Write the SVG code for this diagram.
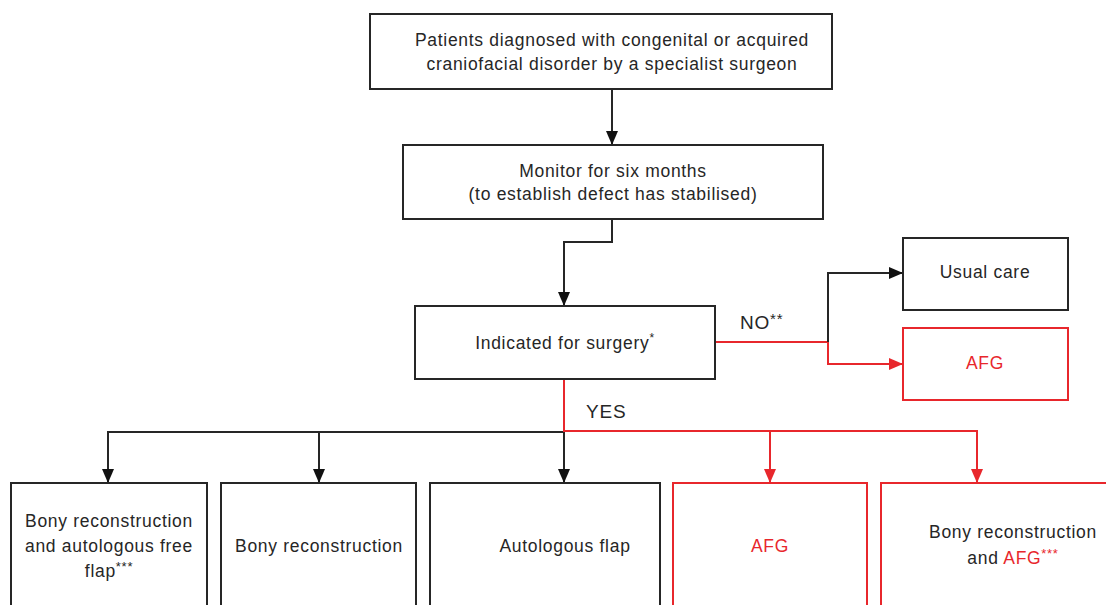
<svg xmlns="http://www.w3.org/2000/svg" width="1106" height="605" viewBox="0 0 1106 605">
<defs>
<style>
.box{fill:#fff;stroke:#262626;stroke-width:2}
.rbox{fill:#fff;stroke:#e8272c;stroke-width:2}
.t{font-family:"Liberation Sans",Arial,sans-serif;font-size:17.5px;letter-spacing:0.7px;fill:#262626;text-anchor:middle}
.r{fill:#e8272c}
.lab{font-family:"Liberation Sans",Arial,sans-serif;font-size:19px;letter-spacing:0.8px;fill:#262626}
.ln{fill:none;stroke:#262626;stroke-width:2}
.rln{fill:none;stroke:#e8272c;stroke-width:2}
</style>
<marker id="ab" viewBox="0 0 14 14" refX="13" refY="7" markerWidth="14" markerHeight="14" markerUnits="userSpaceOnUse" orient="auto"><path d="M0,1 L14,7 L0,13 Z" fill="#111"/></marker>
<marker id="ar" viewBox="0 0 14 14" refX="13" refY="7" markerWidth="14" markerHeight="14" markerUnits="userSpaceOnUse" orient="auto"><path d="M0,1 L14,7 L0,13 Z" fill="#e8272c"/></marker>
</defs>
<rect width="1106" height="605" fill="#fff"/>
<g id="connectors">
<path class="ln" d="M612,89 V144" marker-end="url(#ab)"/>
<path class="ln" d="M612,219 V242 H564 V305" marker-end="url(#ab)"/>
<path class="rln" d="M715,342 H828"/>
<path class="ln" d="M828,342 V273 H902" marker-end="url(#ab)"/>
<path class="rln" d="M828,342 V364 H902" marker-end="url(#ar)"/>
<path class="ln" d="M564,432 H108 V482" marker-end="url(#ab)"/>
<path class="ln" d="M319,432 V482" marker-end="url(#ab)"/>
<path class="ln" d="M564,432 V482" marker-end="url(#ab)"/>
<path class="rln" d="M564,379 V431 H977 V482" marker-end="url(#ar)"/>
<path class="rln" d="M770,431 V482" marker-end="url(#ar)"/>
<text class="lab" x="740" y="329">NO<tspan font-size="15" dy="-5">**</tspan></text>
<text class="lab" x="586" y="418">YES</text>
</g>
<g id="n1">
<rect class="box" x="370" y="14" width="462" height="75"/>
<text class="t" x="612" y="46">Patients diagnosed with congenital or acquired</text>
<text class="t" x="612" y="70">craniofacial disorder by a specialist surgeon</text>
</g>
<g id="n2">
<rect class="box" x="403" y="145" width="420" height="74"/>
<text class="t" x="613" y="177">Monitor for six months</text>
<text class="t" x="613" y="200">(to establish defect has stabilised)</text>
</g>
<g id="n3">
<rect class="box" x="415" y="306" width="300" height="73"/>
<text class="t" x="565" y="349">Indicated for surgery<tspan font-size="12" dy="-7">*</tspan></text>
</g>
<g id="n4">
<rect class="box" x="903" y="238" width="165" height="72"/>
<text class="t" x="985" y="278">Usual care</text>
</g>
<g id="n5">
<rect class="rbox" x="903" y="328" width="165" height="72"/>
<text class="t r" x="985" y="369">AFG</text>
</g>
<g id="n6">
<rect class="box" x="11" y="483" width="196" height="140"/>
<text class="t" x="109" y="527">Bony reconstruction</text>
<text class="t" x="109" y="552">and autologous free</text>
<text class="t" x="109" y="577">flap<tspan font-size="13" dy="-6">***</tspan></text>
</g>
<g id="n7">
<rect class="box" x="221" y="483" width="195" height="140"/>
<text class="t" x="319" y="552">Bony reconstruction</text>
</g>
<g id="n8">
<rect class="box" x="430" y="483" width="230" height="140"/>
<text class="t" x="565" y="552">Autologous flap</text>
</g>
<g id="n9">
<rect class="rbox" x="673" y="483" width="194" height="140"/>
<text class="t r" x="770" y="552">AFG</text>
</g>
<g id="n10">
<rect class="rbox" x="881" y="483" width="270" height="140"/>
<text class="t" x="1013" y="538">Bony reconstruction</text>
<text class="t" x="1013" y="564">and <tspan class="r">AFG</tspan><tspan class="r" font-size="13" dy="-6">***</tspan></text>
</g>
</svg>
